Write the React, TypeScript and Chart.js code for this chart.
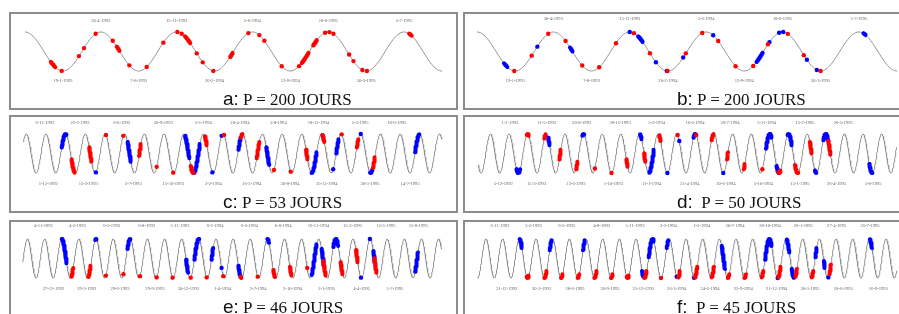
import React, { useEffect, useRef } from "react";
import { Chart, registerables } from "chart.js";
Chart.register(...registerables);

type Mark = [number, number];

// ---------- DATA (x in cycles of the fitted period; integer = crest) ----------
const periodsDays = [200, 200, 53, 50, 46, 45];
const letters = ["a", "b", "c", "d", "e", "f"];

const aRed: Mark[] = [[0.34,0.40],[0.484,0.484],[0.712,0.712],[0.778,0.778],[0.932,0.932],[1.157,1.157],[1.21,1.245],[1.376,1.376],[1.605,1.605],[1.825,1.825],[2.01,2.01],[2.067,2.067],[2.11,2.18],[2.265,2.265],[2.344,2.344],[2.484,2.484],[2.705,2.74],[2.946,2.946],[3.091,3.091],[3.157,3.157],[3.386,3.386],[3.615,3.615],[3.65,3.74],[3.80,3.85],[3.958,3.958],[4.015,4.015],[4.068,4.068],[4.275,4.275],[4.332,4.332],[4.45,4.45],[4.51,4.51],[5.066,5.10]];
const aBlue: Mark[] = [];

const bRed: Mark[] = [[0.488,0.488],[0.716,0.716],[0.933,0.933],[1.16,1.16],[1.378,1.378],[1.6,1.6],[1.82,1.82],[2.055,2.055],[2.264,2.264],[2.495,2.495],[2.735,2.735],[2.95,2.95],[3.159,3.159],[3.386,3.386],[3.617,3.617],[3.81,3.81],[4.07,4.07],[4.28,4.28],[4.5,4.5]];
const bBlue: Mark[] = [[0.353,0.397],[0.79,0.79],[1.217,1.25],[2.0,2.0],[2.11,2.17],[2.343,2.343],[2.485,2.485],[2.70,2.70],[3.093,3.093],[3.66,3.74],[3.83,3.83],[3.957,3.957],[4.01,4.01],[4.32,4.32],[4.45,4.45],[5.06,5.09]];

const cRed: Mark[] = [[0.3,0.47],[1.2,1.32],[2.05,2.05],[2.93,2.93],[3.73,3.83],[4.63,4.63],[5.47,5.47],[6.36,6.5],[7.08,7.18],[8.05,8.05],[8.9,9.0],[9.71,9.85],[10.59,10.59],[11.44,11.44],[12.22,12.3],[13.05,13.15],[14.03,14.03],[14.8,14.88],[15.62,15.72]];
const cBlue: Mark[] = [[-0.2,0.05],[1.54,1.54],[3.15,3.32],[6.07,6.29],[6.5,6.83],[7.46,7.46],[7.93,7.93],[8.78,8.9],[10.2,10.35],[12.5,12.76],[13.07,13.07],[13.6,13.6],[13.75,13.88],[15.0,15.0],[15.47,15.6],[17.76,17.98]];

const dRed: Mark[] = [[-0.05,0.07],[0.89,0.98],[1.7,1.78],[2.6,2.68],[3.61,3.61],[4.5,4.5],[5.3,5.37],[6.25,6.32],[7.06,7.14],[8.05,8.05],[9.05,9.05],[9.87,10.0],[10.7,10.76],[11.6,11.66],[12.6,12.6],[13.45,13.58],[14.35,14.53],[15.15,15.25],[16.14,16.26]];
const dBlue: Mark[] = [[-0.6,-0.4],[1.1,1.18],[2.93,3.04],[6.03,6.12],[6.53,6.78],[7.5,7.5],[8.14,8.14],[8.9,9.02],[10.5,10.5],[12.79,13.1],[13.36,13.5],[13.95,14.18],[15.42,15.5],[15.87,16.14],[18.34,18.52]];

const eRed: Mark[] = [[-1.44,-1.33],[-0.45,-0.31],[0.58,0.58],[1.6,1.6],[2.57,2.57],[3.54,3.54],[4.47,4.47],[5.53,5.53],[6.46,6.46],[7.43,7.43],[8.44,8.5],[9.44,9.44],[10.35,10.45],[11.32,11.42],[12.33,12.33],[13.27,13.42],[14.28,14.4],[15.18,15.28],[16.25,16.38]];
const eBlue: Mark[] = [[-2.0,-1.71],[-0.05,0.04],[1.83,2.02],[5.26,5.38],[5.74,6.03],[6.74,6.84],[7.33,7.33],[8.31,8.44],[10.0,10.1],[12.59,12.88],[13.17,13.31],[13.85,14.14],[15.47,15.47],[15.99,15.99],[16.19,16.28],[18.63,18.8]];

const fRed: Mark[] = [[0.44,0.58],[1.5,1.64],[2.5,2.6],[3.5,3.6],[4.5,4.64],[5.5,5.6],[6.44,6.58],[7.5,7.64],[8.5,8.5],[9.54,9.64],[10.54,10.68],[11.54,11.68],[12.5,12.6],[13.5,13.6],[14.54,14.64],[15.54,15.68],[16.56,16.66],[17.54,17.64],[18.6,18.7]];
const fBlue: Mark[] = [[0.02,0.16],[1.82,1.94],[3.82,3.94],[7.36,7.44],[7.76,8.08],[8.84,8.94],[9.44,9.44],[10.48,10.48],[12.14,12.34],[14.74,15.14],[15.5,15.5],[16.04,16.2],[16.34,16.48],[17.76,17.84],[18.27,18.33],[18.54,18.54],[21.03,21.16]];

// tick positions (cycles) and date labels
const abTopTicks = [1, 2, 3, 4, 5];
const abTopLabels = ["30-4-1993", "15-11-1993", "5-6-1994", "18-6-1995", "5-7-1995"];
const abBottomTicks = [0.5, 1.5, 2.5, 3.5, 4.5];
const abBottomLabels = ["19-1-1993", "7-8-1993", "26-2-1994", "12-9-1994", "30-3-1995"];

const cTopTicks = [-1.05, 0.73, 2.85, 4.97, 7.0, 8.86, 10.81, 12.85, 14.97, 16.83];
const cTopLabels = ["6-11-1992", "22-2-1993", "6-6-1993", "20-9-1993", "5-1-1994", "20-4-1994", "5-8-1994", "18-11-1994", "5-3-1995", "18-6-1995"];
const cBottomTicks = [-0.88, 1.15, 3.44, 5.47, 7.51, 9.46, 11.41, 13.27, 15.47, 17.51];
const cBottomLabels = ["1-12-1992", "15-3-1993", "2-7-1993", "15-10-1993", "2-2-1994", "16-5-1994", "30-8-1994", "15-12-1994", "30-3-1995", "14-7-1995"];

const dTopTicks = [-0.95, 1.02, 2.9, 4.96, 6.92, 8.98, 10.86, 12.83, 14.89, 16.94];
const dTopLabels = ["1-2-1993", "11-5-1993", "20-8-1993", "28-11-1993", "5-3-1994", "16-6-1994", "26-7-1994", "5-11-1994", "15-2-1995", "26-5-1995"];
const dBottomTicks = [-1.31, 0.48, 2.59, 4.6, 6.65, 8.71, 10.64, 12.65, 14.62, 16.58, 18.55];
const dBottomLabels = ["5-12-1992", "15-3-1993", "23-6-1993", "1-10-1993", "11-1-1994", "21-4-1994", "30-6-1994", "5-10-1994", "15-1-1995", "26-4-1995", "5-8-1995"];

const eTopTicks = [-3.07, -1.09, 0.91, 2.96, 4.9, 6.95, 8.95, 10.93, 12.98, 14.98, 16.93, 18.81];
const eTopLabels = ["4-11-1992", "4-2-1993", "6-5-1993", "6-8-1993", "5-11-1993", "6-2-1994", "6-5-1994", "6-8-1994", "16-11-1994", "15-2-1995", "15-5-1995", "15-8-1995"];
const eBottomTicks = [-2.49, -0.54, 1.4, 3.44, 5.39, 7.39, 9.47, 11.48, 13.46, 15.51, 17.45];
const eBottomLabels = ["27-12-1992", "29-3-1993", "29-6-1993", "29-9-1993", "30-12-1993", "1-4-1994", "2-7-1994", "2-10-1994", "2-1-1995", "4-4-1995", "5-7-1995"];

const fTopTicks = [-1.16, 0.84, 2.84, 4.94, 6.94, 8.94, 10.94, 12.94, 15.04, 17.04, 19.04, 21.04];
const fTopLabels = ["6-11-1992", "5-2-1993", "6-5-1993", "4-8-1993", "5-11-1993", "3-2-1994", "1-5-1994", "30-7-1994", "28-10-1994", "26-1-1995", "27-4-1995", "25-7-1995"];
const fBottomTicks = [-0.76, 1.34, 3.34, 5.44, 7.44, 9.44, 11.44, 13.44, 15.44, 17.44, 19.44, 21.54];
const fBottomLabels = ["31-12-1992", "30-3-1993", "28-6-1993", "26-9-1993", "25-12-1993", "26-3-1994", "24-6-1994", "22-9-1994", "21-12-1994", "20-3-1995", "18-6-1995", "16-9-1995"];

const xRanges: [number, number][] = [[0, 5.5], [0, 5.5], [-2.15, 19.12], [-2.65, 19.8], [-4.28, 20.17], [-2.52, 22.64]];

// ---------- LAYOUT ----------
interface Layout { left: number; top: number; chartLeft: number; chartRight: number; peakY: number; troughY: number; topOff: number; bottomOff: number; }
const layouts: Layout[] = [
  { left: 9, top: 12, chartLeft: 25, chartRight: 442, peakY: 32, troughY: 71, topOff: 11, bottomOff: 10 },
  { left: 463, top: 12, chartLeft: 477, chartRight: 897, peakY: 32, troughY: 71, topOff: 13, bottomOff: 10 },
  { left: 9, top: 115, chartLeft: 23.3, chartRight: 441.8, peakY: 134, troughY: 173, topOff: 11, bottomOff: 11 },
  { left: 463, top: 115, chartLeft: 478.3, chartRight: 896.5, peakY: 134, troughY: 173, topOff: 11, bottomOff: 11 },
  { left: 9, top: 220, chartLeft: 22.7, chartRight: 441.5, peakY: 239, troughY: 278, topOff: 13, bottomOff: 11 },
  { left: 463, top: 220, chartLeft: 477.3, chartRight: 896.7, peakY: 239, troughY: 278, topOff: 13, bottomOff: 11 },
];
const PW = 449, PH = 98, CH = 80;

const panelData = [
  { red: aRed, blue: aBlue, tt: abTopTicks, tl: abTopLabels, bt: abBottomTicks, bl: abBottomLabels },
  { red: bRed, blue: bBlue, tt: abTopTicks, tl: abTopLabels, bt: abBottomTicks, bl: abBottomLabels },
  { red: cRed, blue: cBlue, tt: cTopTicks, tl: cTopLabels, bt: cBottomTicks, bl: cBottomLabels },
  { red: dRed, blue: dBlue, tt: dTopTicks, tl: dTopLabels, bt: dBottomTicks, bl: dBottomLabels },
  { red: eRed, blue: eBlue, tt: eTopTicks, tl: eTopLabels, bt: eBottomTicks, bl: eBottomLabels },
  { red: fRed, blue: fBlue, tt: fTopTicks, tl: fTopLabels, bt: fBottomTicks, bl: fBottomLabels },
];

const model = (x: number) => Math.cos(2 * Math.PI * x);

const dateLabelsPlugin = {
  id: "dateLabels",
  afterDraw(chart: any, _args: any, opts: any) {
    const { ctx, chartArea, scales } = chart;
    ctx.save();
    ctx.font = '4.6px "Liberation Serif", serif';
    ctx.fillStyle = "#666";
    ctx.textAlign = "center";
    ctx.textBaseline = "middle";
    opts.topTicks.forEach((v: number, i: number) => ctx.fillText(opts.topLabels[i], scales.x.getPixelForValue(v), chartArea.top - opts.topOff));
    opts.bottomTicks.forEach((v: number, i: number) => ctx.fillText(opts.bottomLabels[i], scales.x.getPixelForValue(v), chartArea.bottom + opts.bottomOff));
    ctx.restore();
  },
};

function Panel({ idx }: { idx: number }) {
  const ref = useRef<HTMLCanvasElement>(null);
  const L = layouts[idx];
  const D = panelData[idx];
  const [x0, x1] = xRanges[idx];
  useEffect(() => {
    if (!ref.current) return;
    const curve: { x: number; y: number }[] = [];
    const n = Math.ceil((x1 - x0) / 0.015);
    for (let i = 0; i <= n; i++) {
      const x = x0 + ((x1 - x0) * i) / n;
      curve.push({ x, y: model(x) });
    }
    const datasets: any[] = [
      { data: curve, borderColor: "#939393", borderWidth: 1, pointRadius: 0, tension: 0, clip: false, order: 10 },
    ];
    const add = (marks: Mark[], color: string) => {
      marks.forEach(([a, b]) => {
        if (b - a < 0.004) {
          datasets.push({ data: [{ x: a, y: model(a) }], showLine: false, pointRadius: 2.2, pointBackgroundColor: color, pointBorderWidth: 0, clip: false, order: 1 });
        } else {
          const pts: { x: number; y: number }[] = [];
          const m = Math.max(4, Math.ceil((b - a) / 0.005));
          for (let i = 0; i <= m; i++) {
            const x = a + ((b - a) * i) / m;
            pts.push({ x, y: model(x) });
          }
          datasets.push({ data: pts, borderColor: color, borderWidth: 4, borderCapStyle: "round", borderJoinStyle: "round", pointRadius: 0, tension: 0, clip: false, order: 1 });
        }
      });
    };
    add(D.red, "#ff0000");
    add(D.blue, "#0000ff");
    const chart = new Chart(ref.current, {
      type: "line",
      data: { datasets },
      plugins: [dateLabelsPlugin as any],
      options: {
        responsive: false,
        animation: false,
        devicePixelRatio: 1,
        events: [],
        layout: {
          padding: {
            left: L.chartLeft - L.left,
            right: L.left + PW - L.chartRight,
            top: L.peakY - L.top,
            bottom: L.top + CH - L.troughY,
          },
        },
        scales: {
          x: { type: "linear", min: x0, max: x1, display: false },
          y: { type: "linear", min: -1, max: 1, display: false },
        },
        plugins: {
          legend: { display: false },
          tooltip: { enabled: false },
          dateLabels: { topTicks: D.tt, topLabels: D.tl, bottomTicks: D.bt, bottomLabels: D.bl, topOff: L.topOff, bottomOff: L.bottomOff },
        } as any,
      },
    });
    return () => chart.destroy();
  }, [idx]);
  return (
    <>
      <div style={{ position: "absolute", left: L.left, top: L.top, width: PW, height: PH, boxSizing: "border-box", border: "2px solid #8c8c8c" }} />
      <canvas ref={ref} width={PW} height={CH} style={{ position: "absolute", left: L.left, top: L.top, width: PW, height: CH }} />
      <div style={{ position: "absolute", left: L.left + 214, top: L.top + 78, whiteSpace: "pre", lineHeight: "17px", color: "#111" }}>
        <span style={{ fontFamily: '"Liberation Sans", sans-serif', fontSize: 19 }}>{letters[idx] + ":"}</span>
        <span style={{ fontFamily: '"Liberation Serif", serif', fontSize: 17 }}>{(idx === 3 || idx === 5 ? "  " : " ") + "P = " + periodsDays[idx] + " JOURS"}</span>
      </div>
    </>
  );
}

export default function App() {
  return (
    <div style={{ position: "fixed", left: 0, top: 0, width: 899, height: 314, overflow: "hidden", background: "#fff" }}>
      {[0, 1, 2, 3, 4, 5].map((i) => (
        <Panel key={i} idx={i} />
      ))}
    </div>
  );
}
